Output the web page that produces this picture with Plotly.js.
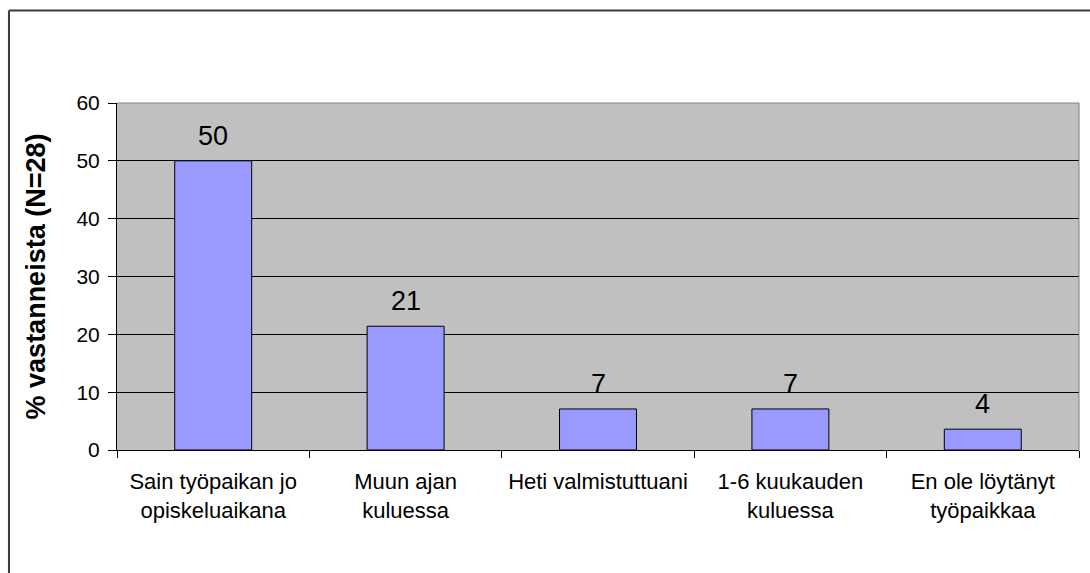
<!DOCTYPE html>
<html>
<head>
<meta charset="utf-8">
<script src="https://cdn.plot.ly/plotly-3.0.1.min.js"></script>
<style>
html,body{margin:0;padding:0;background:#fff;}
#chart{width:1090px;height:573px;}
</style>
</head>
<body>
<div id="chart"></div>
<script>
// Data
const categories = [
  "Sain työpaikan jo<br>opiskeluaikana",
  "Muun ajan<br>kuluessa",
  "Heti valmistuttuani",
  "1-6 kuukauden<br>kuluessa",
  "En ole löytänyt<br>työpaikkaa"
];
const values = [50, 21.4, 7.1, 7.1, 3.6];
const valueLabels = ["50", "21", "7", "7", "4"];
const yTickValues = [0, 10, 20, 30, 40, 50, 60];
const yAxisTitle = "% vastanneista (N=28)";

const FONT = "Liberation Sans, Arial, sans-serif";

const trace = {
  type: "bar",
  x: categories,
  y: values,
  marker: {color: "#9999FF", line: {color: "#000000", width: 1}},
  hoverinfo: "x+y"
};

const annotations = categories.map((c, i) => ({
  x: c, y: values[i], xref: "x", yref: "y",
  text: valueLabels[i], showarrow: false,
  yanchor: "bottom", yshift: 8,
  font: {family: FONT, size: 27, color: "#000"}
}));

const layout = {
  width: 1090, height: 573,
  margin: {l: 117, r: 11, t: 103, b: 123},
  paper_bgcolor: "#ffffff",
  plot_bgcolor: "#C0C0C0",
  bargap: 0.6,
  showlegend: false,
  font: {family: FONT, color: "#000"},
  xaxis: {
    type: "category",
    range: [-0.5, 4.5],
    showline: true, linecolor: "#000", linewidth: 1,
    ticks: "outside", ticklen: 7, tickcolor: "#000", tickwidth: 1,
    tickson: "boundaries",
    showgrid: false, zeroline: false,
    tickfont: {family: FONT, size: 22, color: "#000"},
    ticklabelstandoff: 12,
    fixedrange: true
  },
  yaxis: {
    range: [0, 60],
    tickvals: yTickValues,
    showline: true, linecolor: "#000", linewidth: 1,
    ticks: "outside", ticklen: 8, tickcolor: "#000", tickwidth: 1,
    showgrid: true, gridcolor: "#000", gridwidth: 1,
    zeroline: false,
    tickfont: {family: FONT, size: 21, color: "#000"},
    ticklabelstandoff: 4,
    title: {text: yAxisTitle, font: {family: FONT, size: 27, color: "#000", weight: "bold"}, standoff: 22},
    fixedrange: true
  },
  annotations: annotations,
  shapes: [
    // plot-area top and right border (grey)
    {type: "line", xref: "paper", yref: "paper", x0: 0, x1: 1, y0: 1, y1: 1, line: {color: "#808080", width: 1}},
    {type: "line", xref: "paper", yref: "paper", x0: 1, x1: 1, y0: 0, y1: 1, line: {color: "#808080", width: 1}},
    // outer chart border (left and top, continuing past the edges)
    {type: "line", xref: "paper", yref: "paper", x0: -0.1123, x1: -0.1123, y0: 1.2666, y1: -0.6, line: {color: "#3a3a3a", width: 2}},
    {type: "line", xref: "paper", yref: "paper", x0: -0.1123, x1: 1.2, y0: 1.2666, y1: 1.2666, line: {color: "#3a3a3a", width: 2}}
  ]
};

Plotly.newPlot("chart", [trace], layout, {displayModeBar: false, staticPlot: true});
</script>
</body>
</html>
